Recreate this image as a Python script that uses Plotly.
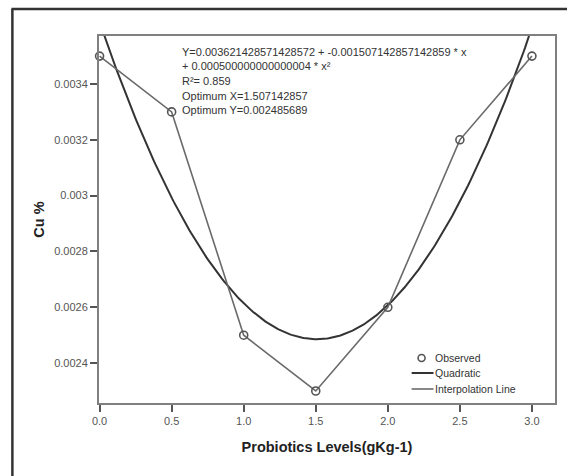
import numpy as np
import plotly.graph_objects as go

# Data
levels = [0.0, 0.5, 1.0, 1.5, 2.0, 2.5, 3.0]
cu_observed = [0.0035, 0.0033, 0.0025, 0.0023, 0.0026, 0.0032, 0.0035]
quad_coefs = [0.003621428571428572, -0.001507142857142859, 0.000500000000000004]
x_ticks = [0.0, 0.5, 1.0, 1.5, 2.0, 2.5, 3.0]
x_tick_labels = ["0.0", "0.5", "1.0", "1.5", "2.0", "2.5", "3.0"]
y_ticks = [0.0024, 0.0026, 0.0028, 0.0030, 0.0032, 0.0034]
y_tick_labels = ["0.0024", "0.0026", "0.0028", "0.003", "0.0032", "0.0034"]
equation_lines = [
    "Y=0.003621428571428572 + -0.001507142857142859 * x",
    "+ 0.000500000000000004 * x²",
    "R²= 0.859",
    "Optimum X=1.507142857",
    "Optimum Y=0.002485689",
]

W, H = 567, 476
L, R, T, B = 99, 10, 36, 73
pw, ph = W - L - R, H - T - B

def px_x(p):
    return (p - L) / pw

def px_y(p):
    return 1 - (p - T) / ph

FONT = "Liberation Sans, Arial"

xq = np.linspace(-0.01, 3.2, 300)
yq = quad_coefs[0] + quad_coefs[1] * xq + quad_coefs[2] * xq ** 2

fig = go.Figure()
fig.add_trace(go.Scatter(x=xq, y=yq, mode="lines", line=dict(color="#333333", width=2),
                         name="Quadratic", showlegend=False, hoverinfo="skip"))
fig.add_trace(go.Scatter(x=levels, y=cu_observed, mode="lines",
                         line=dict(color="#6a6a6a", width=1.6), showlegend=False))
fig.add_trace(go.Scatter(x=levels, y=cu_observed, mode="markers",
                         marker=dict(symbol="circle-open", size=8, color="#555555",
                                     line=dict(width=1.6, color="#555555")),
                         cliponaxis=False, showlegend=False))

# Legend (manual)
leg_font = dict(family=FONT, size=10.5, color="#333333")
fig.add_shape(type="circle", xref="paper", yref="paper", x0=px_x(419.5), x1=px_x(426.5),
              y0=px_y(354.5), y1=px_y(361.5), line=dict(color="#555555", width=1.6))
fig.add_annotation(xref="paper", yref="paper", x=px_x(434), y=px_y(358), xanchor="left",
                   yanchor="middle", text="Observed", showarrow=False, font=leg_font)
fig.add_shape(type="line", xref="paper", yref="paper", x0=px_x(413), x1=px_x(435),
              y0=px_y(373), y1=px_y(373), line=dict(color="#333333", width=2))
fig.add_annotation(xref="paper", yref="paper", x=px_x(434), y=px_y(373), xanchor="left",
                   yanchor="middle", text="Quadratic", showarrow=False, font=leg_font)
fig.add_shape(type="line", xref="paper", yref="paper", x0=px_x(413), x1=px_x(435),
              y0=px_y(389), y1=px_y(389), line=dict(color="#6a6a6a", width=1.6))
fig.add_annotation(xref="paper", yref="paper", x=px_x(434), y=px_y(389), xanchor="left",
                   yanchor="middle", text="Interpolation Line", showarrow=False, font=leg_font)

# Equation text
for txt, yy in zip(equation_lines, [52, 66, 81, 96, 110]):
    fig.add_annotation(xref="paper", yref="paper", x=px_x(180), y=px_y(yy), xanchor="left",
                       yanchor="middle", text=txt, showarrow=False,
                       font=dict(family=FONT, size=11, color="#333333"))

# Outer frame (left and top lines)
fig.add_shape(type="line", xref="paper", yref="paper", x0=px_x(12), x1=px_x(12),
              y0=px_y(9), y1=px_y(480), line=dict(color="#333333", width=2.5))
fig.add_shape(type="line", xref="paper", yref="paper", x0=px_x(11), x1=px_x(580),
              y0=px_y(9), y1=px_y(9), line=dict(color="#333333", width=2.5))

axis_common = dict(showgrid=False, zeroline=False, showline=True, mirror=True,
                   linecolor="#808080", linewidth=2, ticks="outside", ticklen=7,
                   tickwidth=1.5, tickcolor="#555555",
                   tickfont=dict(family=FONT, size=11, color="#555555"))

fig.update_layout(
    width=W, height=H,
    margin=dict(l=L, r=R, t=T, b=B),
    paper_bgcolor="white", plot_bgcolor="white",
    showlegend=False,
    xaxis=dict(range=[-0.004, 3.16], tickvals=x_ticks, ticktext=x_tick_labels,
               title=dict(text="<b>Probiotics Levels(gKg-1)</b>", standoff=16,
                          font=dict(family=FONT, size=14.5, color="#222222")),
               **axis_common),
    yaxis=dict(range=[0.002257, 0.003572], tickvals=y_ticks, ticktext=y_tick_labels,
               title=dict(text="<b>Cu %</b>", standoff=6,
                          font=dict(family=FONT, size=14.5, color="#222222")),
               **axis_common),
)

fig.write_html("out.html", config={"displayModeBar": False},
               post_script="document.body.style.margin='0';document.body.style.overflow='hidden';")
